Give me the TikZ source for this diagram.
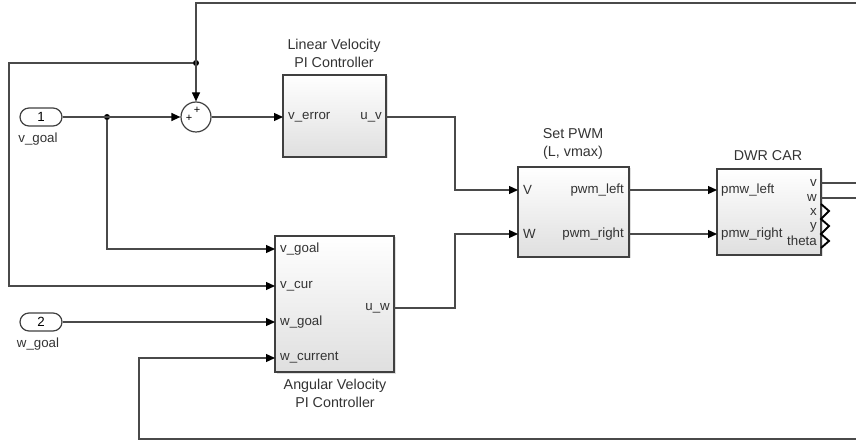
\documentclass[tikz,border=0pt]{standalone}
\usepackage{fontspec}
\setmainfont{Liberation Sans}
\usetikzlibrary{arrows.meta,shadows}
\definecolor{wirec}{HTML}{4A4A4A}
\definecolor{blockc}{HTML}{404040}
\definecolor{txtc}{HTML}{333333}
\begin{document}
\begin{tikzpicture}[x=1pt,y=-1pt,
  wire/.style={draw=wirec, line width=1.2pt},
  arr/.style={wire, -{Triangle[length=9pt,width=8pt,color=black,fill=black]}},
  block/.style={draw=blockc, line width=1.3pt, top color=white, bottom color=gray!25,
    drop shadow={shadow xshift=1.5pt,shadow yshift=-1.5pt,opacity=0.25}, inner sep=0pt},
  port/.style={font=\fontsize{13.3}{15}\selectfont, text=txtc, inner sep=0pt},
  title/.style={font=\fontsize{14.3}{18}\selectfont, text=txtc, align=center, inner sep=0pt},
  inport/.style={draw=blockc, line width=1.2pt, rounded corners=9pt, minimum width=42pt,
    minimum height=18pt, inner sep=0pt, font=\fontsize{13.3}{15}\selectfont, fill=white},
  jdot/.style={circle, fill=black, inner sep=0pt, minimum size=6pt}]
\useasboundingbox (0,0) rectangle (856,443);

% blocks
\node[block, minimum width=103pt, minimum height=82pt] (lin) at (334.5,116) {};
\node[block, minimum width=111pt, minimum height=90pt] (pwm) at (573.5,212) {};
\node[block, minimum width=104pt, minimum height=86pt] (dwr) at (769,212) {};
\node[block, minimum width=119pt, minimum height=136pt] (ang) at (334.5,304) {};

% titles
\node[title] (linT) at (334,53) {Linear Velocity\\PI Controller};
\node[title] (pwmT) at (573,144) {Set PWM\\(L, vmax)};
\node[title] (dwrT) at (768,156) {DWR CAR};
\node[title] (angT) at (335,393) {Angular Velocity\\PI Controller};

% port labels
\node[port, anchor=west] (l1) at (288,117) {v\_error};
\node[port, anchor=east] (l2) at (382,117) {u\_v};
\node[port, anchor=west] (l3) at (523,190) {V};
\node[port, anchor=west] (l4) at (523,234) {W};
\node[port, anchor=east] (l5) at (624,190) {pwm\_left};
\node[port, anchor=east] (l6) at (624,234) {pwm\_right};
\node[port, anchor=west] (l7) at (721,190) {pmw\_left};
\node[port, anchor=west] (l8) at (721,234) {pmw\_right};
\node[port, anchor=east] (o1) at (817,183) {v};
\node[port, anchor=east] (o2) at (817,198) {w};
\node[port, anchor=east] (o3) at (817,212) {x};
\node[port, anchor=east] (o4) at (817,227) {y};
\node[port, anchor=east] (o5) at (817,241) {theta};
\node[port, anchor=west] (a1) at (280,249) {v\_goal};
\node[port, anchor=west] (a2) at (280,286) {v\_cur};
\node[port, anchor=west] (a3) at (280,322) {w\_goal};
\node[port, anchor=west] (a4) at (280,358) {w\_current};
\node[port, anchor=east] (a5) at (390,308) {u\_w};

% inports
\node[inport] (in1) at (41,117) {1};
\node[port] (in1L) at (38,139) {v\_goal};
\node[inport] (in2) at (41,322) {2};
\node[port] (in2L) at (38,344) {w\_goal};

% sum
\node[circle, draw=blockc, line width=1.2pt, minimum size=30pt, inner sep=0pt, fill=white] (sum) at (196,117) {};
\node[inner sep=0pt, font=\fontsize{11}{11}\selectfont] (p1) at (197,110) {+};
\node[inner sep=0pt, font=\fontsize{11}{11}\selectfont] (p2) at (189,118) {+};

% coordinates
\coordinate (linin) at (283,117);
\coordinate (linout) at (386,117);
\coordinate (pwmV) at (518,190);
\coordinate (pwmW) at (518,234);
\coordinate (pwmL) at (629,190);
\coordinate (pwmR) at (629,234);
\coordinate (dwrL) at (717,190);
\coordinate (dwrR) at (717,234);
\coordinate (dwrv) at (821,183);
\coordinate (dwrw) at (821,198);
\coordinate (angvgoal) at (275,249);
\coordinate (angvcur) at (275,286);
\coordinate (angwgoal) at (275,322);
\coordinate (angwcur) at (275,358);
\coordinate (angout) at (394,308);
\coordinate (topR) at (856,3);
\coordinate (botR) at (856,439);
\coordinate (vR) at (856,183);
\coordinate (wR) at (856,198);
\node[jdot] (j1) at (196,63) {};
\node[jdot] (j2) at (107,117) {};

% wires
\draw[arr] (topR) -- (196,3) -- (sum.north);
\draw[arr] (j1) -- (9,63) -- (9,286) -- (angvcur);
\draw[arr] (in1.east) -- (sum.west);
\draw[arr] (j2) |- (angvgoal);
\draw[arr] (sum.east) -- (linin);
\draw[arr] (linout) -- (455,117) |- (pwmV);
\draw[arr] (angout) -- (455,308) |- (pwmW);
\draw[arr] (pwmL) -- (dwrL);
\draw[arr] (pwmR) -- (dwrR);
\draw[wire] (dwrv) -- (vR);
\draw[wire] (dwrw) -- (wR);
\draw[arr] (botR) -- (139,439) |- (angwcur);
\draw[arr] (in2.east) -- (angwgoal);

% unconnected output markers
\draw[line width=1.9pt, black, line join=miter]
  (821,204) -- (829,211) -- (821,219) -- (829,226) -- (821,234) -- (829,241) -- (821,248);
\end{tikzpicture}
\end{document}
